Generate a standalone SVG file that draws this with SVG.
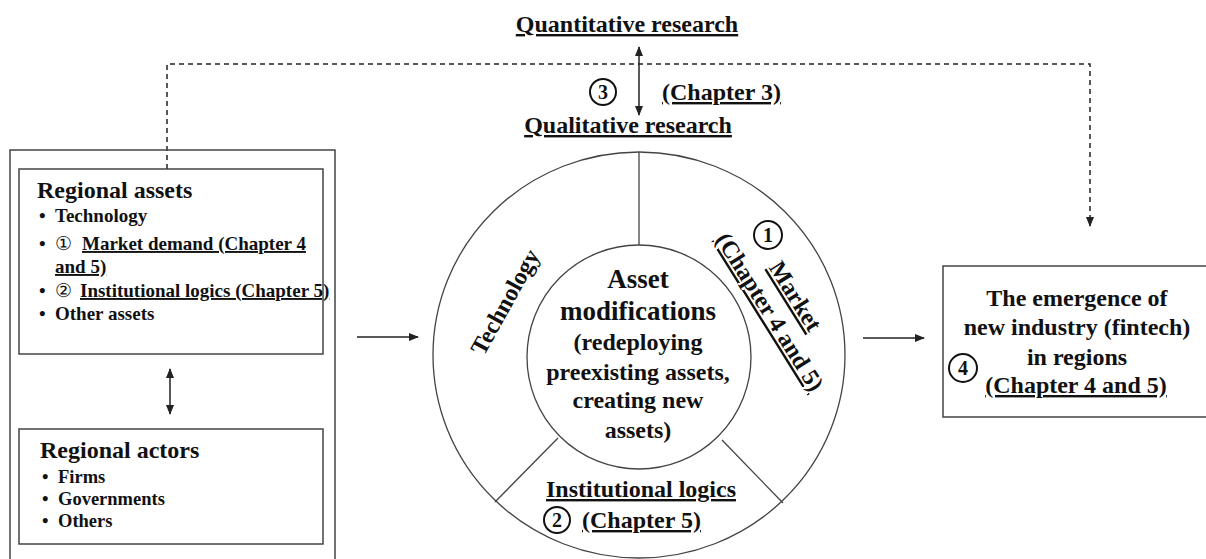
<svg xmlns="http://www.w3.org/2000/svg" width="1206" height="559" viewBox="0 0 1206 559">
<style>
text{font-family:"Liberation Serif","Times New Roman",serif;font-weight:bold;fill:#111;}
.t24{font-size:24px;}
.t27{font-size:27px;}
.b19{font-size:19px;}
.b18{font-size:18.5px;}
.u{text-decoration:underline;text-decoration-skip-ink:none;}
.box{fill:none;stroke:#444;stroke-width:1.5;}
.ln{fill:none;stroke:#444;stroke-width:1.3;}
.arr{fill:none;stroke:#222;stroke-width:1.5;}
.dash{fill:none;stroke:#222;stroke-width:1.5;stroke-dasharray:5 4;}
.num{fill:none;stroke:#111;stroke-width:2;}
.nt{font-size:20px;text-anchor:middle;}
.c{text-anchor:middle;}
</style>
<defs>
<marker id="ah" markerWidth="10" markerHeight="8" refX="9" refY="4" orient="auto-start-reverse" markerUnits="userSpaceOnUse">
<path d="M0,0 L10,4 L0,8 z" fill="#222"/>
</marker>
</defs>

<g id="connectors">
<path class="dash" d="M167,169 V64 H1090 V226" marker-end="url(#ah)"/>
<line class="arr" x1="639" y1="47" x2="639" y2="115" marker-start="url(#ah)" marker-end="url(#ah)"/>
<line class="arr" x1="170" y1="369" x2="170" y2="414" marker-start="url(#ah)" marker-end="url(#ah)"/>
<line class="arr" x1="357" y1="337" x2="418" y2="337" marker-end="url(#ah)"/>
<line class="arr" x1="863" y1="338" x2="924" y2="338" marker-end="url(#ah)"/>
</g>

<g id="research">
<text class="t24 c u" x="627" y="32">Quantitative research</text>
<circle class="num" cx="603" cy="92" r="13"/>
<text class="nt" x="603" y="99">3</text>
<text class="t24 u" x="662" y="100">(Chapter 3)</text>
<text class="t24 c u" x="628" y="133">Qualitative research</text>
</g>

<g id="regional-box">
<rect class="box" x="10" y="150" width="325" height="420"/>
</g>

<g id="regional-assets">
<rect class="box" x="19" y="169" width="304" height="185"/>
<text class="t24" x="37" y="198">Regional assets</text>
<text class="b19" x="39" y="222">•</text>
<text class="b19" x="55" y="222">Technology</text>
<text class="b19" x="39" y="250">•</text>
<text class="b19" x="55" y="250" style="font-weight:normal">①</text>
<text class="b19 u" x="82" y="250">Market demand (Chapter 4</text>
<text class="b19 u" x="55" y="273">and 5)</text>
<text class="b19" x="39" y="297">•</text>
<text class="b19" x="55" y="297" style="font-weight:normal">②</text>
<text class="b19 u" x="80" y="297">Institutional logics (Chapter 5)</text>
<text class="b19" x="39" y="320">•</text>
<text class="b19" x="55" y="320">Other assets</text>
</g>

<g id="regional-actors">
<rect class="box" x="19" y="429" width="304" height="115"/>
<text class="t24" x="40" y="458">Regional actors</text>
<text class="b18" x="42" y="483">•</text>
<text class="b18" x="58" y="483">Firms</text>
<text class="b18" x="42" y="505">•</text>
<text class="b18" x="58" y="505">Governments</text>
<text class="b18" x="42" y="527">•</text>
<text class="b18" x="58" y="527">Others</text>
</g>

<g id="asset-wheel">
<ellipse class="ln" cx="639" cy="355" rx="206" ry="203"/>
<circle class="ln" cx="639" cy="357" r="112"/>
<line class="ln" x1="639" y1="152" x2="639" y2="245"/>
<line class="ln" x1="558" y1="438" x2="495" y2="502"/>
<line class="ln" x1="722" y1="440" x2="783" y2="503"/>
<text class="t24 c" transform="translate(505,302) rotate(-61)" y="8">Technology</text>
<g transform="translate(781,305) rotate(58)">
<text class="t24 c u" x="0" y="-9">Market</text>
<text class="t24 c u" x="0" y="21">(Chapter 4 and 5)</text>
</g>
<circle class="num" cx="768" cy="235" r="14"/>
<text class="nt" x="768" y="242">1</text>
<text class="t27 c" x="638" y="288">Asset</text>
<text class="t27 c" x="638" y="320">modifications</text>
<text class="t24 c" x="638" y="350">(redeploying</text>
<text class="t24 c" x="638" y="380">preexisting assets,</text>
<text class="t24 c" x="638" y="408">creating new</text>
<text class="t24 c" x="638" y="438">assets)</text>
<text class="t24 c u" x="641" y="497">Institutional logics</text>
<circle class="num" cx="557" cy="520" r="13"/>
<text class="nt" x="557" y="527">2</text>
<text class="t24 u" x="582" y="528">(Chapter 5)</text>
</g>

<g id="emergence">
<rect class="box" x="943" y="266" width="280" height="151"/>
<text class="t24 c" x="1077" y="306">The emergence of</text>
<text class="t24 c" x="1077" y="335">new industry (fintech)</text>
<text class="t24 c" x="1077" y="365">in regions</text>
<text class="t24 c u" x="1076" y="393">(Chapter 4 and 5)</text>
<circle class="num" cx="963" cy="368" r="14"/>
<text class="nt" x="963" y="375">4</text>
</g>
</svg>
